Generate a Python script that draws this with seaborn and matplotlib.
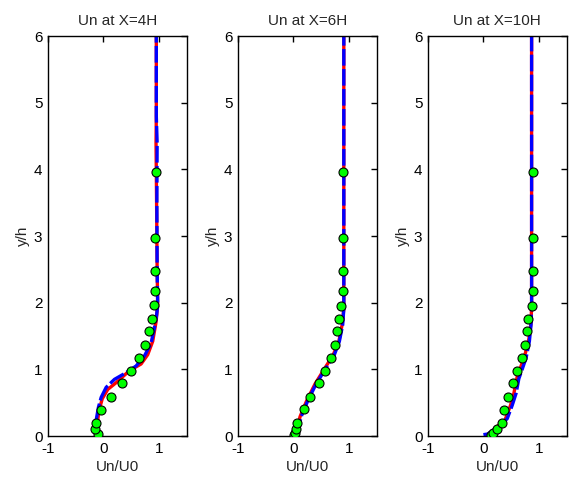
import matplotlib
matplotlib.use("Agg")
import matplotlib.pyplot as plt
import numpy as np
import pandas as pd
import seaborn as sns

# measured points (markers) per station
titles = ["Un at X=4H", "Un at X=6H", "Un at X=10H"]

exp4_u = [-0.09, -0.15, -0.13, -0.05, 0.13, 0.33, 0.50, 0.65, 0.75, 0.82, 0.87, 0.92, 0.93, 0.935, 0.935, 0.95]
exp4_y = [0.03, 0.11, 0.20, 0.39, 0.59, 0.79, 0.97, 1.17, 1.37, 1.58, 1.76, 1.96, 2.18, 2.48, 2.97, 3.96]
exp6_u = [0.01, 0.02, 0.04, 0.07, 0.19, 0.30, 0.46, 0.57, 0.68, 0.75, 0.79, 0.83, 0.86, 0.89, 0.90, 0.90, 0.90]
exp6_y = [0.02, 0.05, 0.11, 0.20, 0.40, 0.59, 0.79, 0.98, 1.17, 1.37, 1.58, 1.76, 1.95, 2.18, 2.48, 2.97, 3.96]
exp10_u = [0.13, 0.17, 0.25, 0.33, 0.37, 0.45, 0.54, 0.60, 0.69, 0.75, 0.79, 0.81, 0.87, 0.89, 0.89, 0.89, 0.89]
exp10_y = [0.02, 0.05, 0.11, 0.20, 0.39, 0.59, 0.80, 0.97, 1.17, 1.37, 1.58, 1.76, 1.95, 2.18, 2.48, 2.97, 3.96]

# simulation profiles: red solid / blue dashed
red4_u = [-0.11, -0.08, -0.02, 0.08, 0.23, 0.47, 0.68, 0.80, 0.89, 0.95, 0.98, 0.97, 0.96, 0.95, 0.955, 0.955]
red4_y = [0.19, 0.38, 0.56, 0.70, 0.80, 0.98, 1.08, 1.22, 1.42, 1.71, 1.96, 2.5, 3.5, 4.4, 4.8, 6.0]
blue4_u = [-0.13, -0.09, -0.04, 0.05, 0.20, 0.41, 0.59, 0.74, 0.86, 0.92, 0.96, 0.98, 0.97, 0.965, 0.97, 0.955, 0.955]
blue4_y = [0.24, 0.43, 0.58, 0.73, 0.85, 0.95, 1.05, 1.20, 1.39, 1.62, 1.81, 1.96, 2.5, 3.5, 4.4, 4.8, 6.0]

red6_u = [0.04, 0.12, 0.24, 0.39, 0.57, 0.72, 0.82, 0.88, 0.91, 0.91, 0.91]
red6_y = [0.02, 0.29, 0.53, 0.78, 1.02, 1.22, 1.42, 1.67, 1.91, 3.0, 6.0]
blue6_u = [0.06, 0.14, 0.26, 0.41, 0.59, 0.74, 0.83, 0.89, 0.91, 0.91, 0.91]
blue6_y = [0.01, 0.29, 0.53, 0.78, 1.02, 1.22, 1.42, 1.67, 1.91, 3.0, 6.0]

red10_u = [0.20, 0.39, 0.49, 0.55, 0.61, 0.68, 0.76, 0.82, 0.86, 0.87, 0.87, 0.87]
red10_y = [0.11, 0.24, 0.46, 0.64, 0.89, 1.05, 1.25, 1.45, 1.70, 1.95, 3.0, 6.0]
blue10_u = [0.0, 0.08, 0.27, 0.43, 0.52, 0.59, 0.64, 0.70, 0.77, 0.83, 0.86, 0.87, 0.87, 0.87]
blue10_y = [0.02, 0.03, 0.14, 0.26, 0.46, 0.64, 0.86, 1.00, 1.17, 1.42, 1.67, 1.91, 3.0, 6.0]

panels = [
    (exp4_u, exp4_y, red4_u, red4_y, blue4_u, blue4_y),
    (exp6_u, exp6_y, red6_u, red6_y, blue6_u, blue6_y),
    (exp10_u, exp10_y, red10_u, red10_y, blue10_u, blue10_y),
]

sns.set_theme(style="white")
plt.rcParams["font.family"] = ["Liberation Sans", "DejaVu Sans"]
plt.rcParams["axes.unicode_minus"] = False

fig = plt.figure(figsize=(5.88, 4.86), dpi=100)
lefts = [48 / 588, 238 / 588, 428 / 588]
W, B, H = 138.5 / 588, 50 / 486, 400 / 486

for left, title, (eu, ey, ru, ry, bu, by) in zip(lefts, titles, panels):
    ax = fig.add_axes([left, B, W, H])
    sns.lineplot(x=ru, y=ry, sort=False, estimator=None, color="red", lw=2.4, ax=ax)
    sns.lineplot(x=bu, y=by, sort=False, estimator=None, color="blue", lw=2.4,
                 linestyle=(0, (5, 1)), ax=ax)
    sns.scatterplot(x=eu, y=ey, color="lime", edgecolor="black", linewidth=0.8,
                    s=42, zorder=5, ax=ax)
    ax.set_xlim(-1, 1.5)
    ax.set_ylim(0, 6)
    ax.set_xticks([-1, 0, 1])
    ax.set_yticks(range(7))
    ax.tick_params(direction="in", top=True, right=True, length=4, width=1,
                   labelsize=11, colors="black", pad=4)
    for sp in ax.spines.values():
        sp.set_color("black")
        sp.set_linewidth(1)
    ax.set_title(title, fontsize=11, pad=8)
    ax.set_xlabel("Un/U0", fontsize=11, labelpad=3)
    ax.set_ylabel("y/h", fontsize=11, labelpad=3)

fig.savefig("out.png", dpi=100)
